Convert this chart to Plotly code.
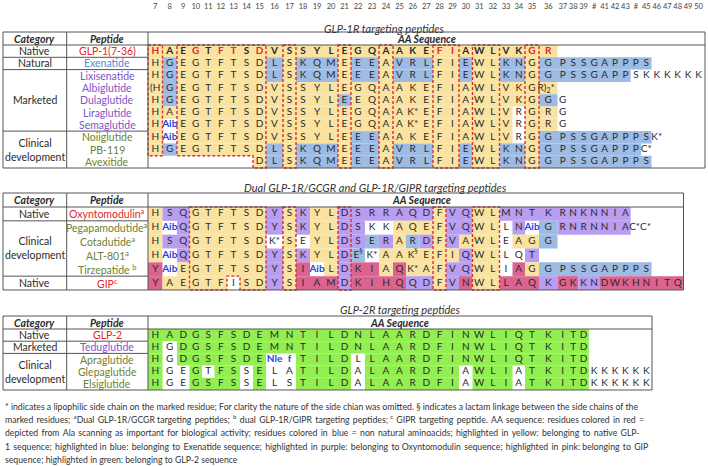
import plotly.graph_objects as go

# ------------------------------------------------------------------ data
POSITIONS = list(range(7, 51))
POS_LABELS = ["#" if p in (40, 44) else str(p) for p in POSITIONS]

# ---- table 1 : GLP-1R
T1_TITLE = "GLP-1R targeting peptides"
T1_PEPTIDES = ["GLP-1(7-36)", "Exenatide", "Lixisenatide", "Albiglutide", "Dulaglutide",
               "Liraglutide", "Semaglutide", "Noiiglutide", "PB-119", "Avexitide"]
T1_GROUP = ["native", "natural", "marketed", "marketed", "marketed", "marketed", "marketed",
            "clinical", "clinical", "clinical"]
T1_CATEGORY = [("Native", 1), ("Natural", 1), ("Marketed", 5), ("Clinical<br>development", 3)]
T1_START = [7, 7, 7, 7, 7, 7, 7, 7, 7, 15]
T1_SEQ = [
    "H A E G T F T S D V S S Y L E G Q A A K E F I A W L V K G R",
    "H G E G T F T S D L S K Q M E E E A V R L F I E W L K N G G P S S G A P P P S",
    "H G E G T F T S D L S K Q M E E E A V R L F I E W L K N G G P S S G A P P S K K K K K K",
    "(H G E G T F T S D V S S Y L E G Q A A K E F I A W L V K G R)<sub>2</sub>*",
    "H G E G T F T S D V S S Y L E E Q A A K E F I A W L V K G G G",
    "H A E G T F T S D V S S Y L E G Q A A K* E F I A W L V R G R G",
    "H Aib E G T F T S D V S S Y L E G Q A A K* E F I A W L V R G R G",
    "H Aib E G T F T S D V S S Y L E E E A A K E F I A W L V R G G P S S G A P P P S K*",
    "H G E G T F T S D L S K Q M E E E A V R L F I E W L K N G G P S S G A P P P C*",
    "D L S K Q M E E E A V R L F I E W L K N G G P S S G A P P P S",
]
T1_HL = [
    "YYYYYYYYYYYYYYYYYYYYYYYYYYYYYY",
    "YBYYYYYYYBYBBBYBBYBBBYYBYYBBYBBBBBBBBBB",
    "YBYYYYYYYBYBBBYBBYBBBYYBYYBBYBBBBBBBBWWWWWWW",
    "YBYYYYYYYYYYYYYYYYYYYYYYYYYYYY",
    "YBYYYYYYYYYYYYBYYYYYYYYYYYYYYBW",
    "YYYYYYYYYYYYYYYYYYYYYYYYYYYWYYW",
    "YWYYYYYYYYYYYYYYYYYYYYYYYYYWYYW",
    "YWYYYYYYYYYYYYYBBYYYYYYYYYYWYBBBBBBBBBBW",
    "YBYYYYYYYBYBBBYBBYBBBYYBYYBBYBBBBBBBBBW",
    "YBYBBBYBBYBBBYYBYYBBYBBBBBBBBBB",
]
T1_BOXES = [(7, 7), (9, 15), (17, 17), (21, 21), (24, 24), (28, 29), (31, 32), (35, 35)]
T1_EXCLUDE = []
T1_RED = [7, 10, 12, 13, 15, 28, 29, 35, 36]

# ---- table 2 : dual agonists
T2_TITLE = "Dual GLP-1R/GCGR and GLP-1R/GIPR targeting peptides"
T2_PEPTIDES = ["Oxyntomodulin<sup>a</sup>", "Pegapamodutide<sup>a</sup>", "Cotadutide<sup>a</sup>",
               "ALT-801<sup>a</sup>", "Tirzepatide <sup>b</sup>", "GIP<sup>c</sup>"]
T2_GROUP = ["native", "clinical", "clinical", "clinical", "clinical", "native"]
T2_CATEGORY = [("Native", 1), ("Clinical<br>development", 4), ("Native", 1)]
T2_START = [7, 7, 7, 7, 7, 7]
T2_SEQ = [
    "H S Q G T F T S D Y S K Y L D S R R A Q D F V Q W L M N T K R N K N N I A",
    "H Aib Q G T F T S D Y S K Y L D S K K A Q E F V Q W L L N Aib G R N R N N I A C*C*",
    "H S Q G T F T S D K* S E Y L D S E R A R D F V A W L E A G G",
    "H Aib Q G T F T S D Y S K Y L D E<sup>§</sup> K* A A K<sup>§</sup> E F I Q W L L Q T",
    "Y Aib E G T F T S D Y S I Aib L D K I A Q K* A F V Q W L I A G G P S S G A P P P S",
    "Y A E G T F I S D Y S I A M D K I H Q Q D F V N W L L A Q K G K K N D W K H N I T Q",
]
T2_HL = [
    "YPPYYYYYYPYPYYPPPPPPPYPPYYPPPPPPPPPPP",
    "YWPYYYYYYPYPYYPPWWYYYYPPYYWPWBPPPPPPPW",
    "YPPYYYYYYWYWYYPPBPYBPYPYYYWYYB",
    "YWPYYYYYYPYPYYPBWYYYYYYPYYWWP",
    "KWYYYYYYYPYKWYPKKYKYYYPPYYWKYBBBBBBBBBB",
    "KYYYYYWYYPYKKKPKKKKPPYPKYYKKKPKKPPKKKKKKKK",
]
T2_BOXES = [(10, 15), (17, 17), (21, 21), (28, 28), (31, 32)]
T2_EXCLUDE = [(5, 13)]

# ---- table 3 : GLP-2R
T3_TITLE = "GLP-2R targeting peptides"
T3_PEPTIDES = ["GLP-2", "Teduglutide", "Apraglutide", "Glepaglutide", "Elsiglutide"]
T3_GROUP = ["native", "marketed", "clinical", "clinical", "clinical"]
T3_CATEGORY = [("Native", 1), ("Marketed", 1), ("Clinical<br>development", 3)]
T3_START = [7, 7, 7, 7, 7]
T3_SEQ = [
    "H A D G S F S D E M N T I L D N L A A R D F I N W L I Q T K I T D",
    "H G D G S F S D E M N T I L D N L A A R D F I N W L I Q T K I T D",
    "H G D G S F S D E Nle f T I L D L L A A R D F I N W L I Q T K I T D",
    "H G E G T F S S E L A T I L D A L A A R D F I A W L I A T K I T D K K K K K K",
    "H G E G S F S S E L S T I L D A L A A R D F I A W L I A T K I T D K K K K K K",
]
T3_HL = [
    "GGGGGGGGGGGGGGGGGGGGGGGGGGGGGGGGG",
    "GWGGGGGGGGGGGGGGGGGGGGGGGGGGGGGGG",
    "GWGGGGGGGWWGGGGWGGGGGGGGGGGGGGGGG",
    "GWWGWGGWGWWGGGGWGGGGGGGWGGGWGGGGGWWWWWW",
    "GWWGGGGWGWWGGGGWGGGGGGGWGGGWGGGGGWWWWWW",
]
T3_BOXES = []
T3_EXCLUDE = []

FOOTNOTE = [
    "* indicates a lipophilic side chain on the marked residue; For clarity the nature of the side chian was omitted. § indicates a lactam linkage between the side chains of the",
    "marked residues; <sup>a</sup>Dual GLP-1R/GCGR targeting peptides; <sup>b</sup> dual GLP-1R/GIPR targeting peptides; <sup>c</sup> GIPR targeting peptide. AA sequence: residues colored in red =",
    "depicted from Ala scanning as important for biological activity; residues colored in blue = non natural aminoacids; highlighted in yellow: belonging to native GLP-",
    "1 sequence; highlighted in blue: belonging to Exenatide sequence; highlighted in purple: belonging to Oxyntomodulin sequence; highlighted in pink: belonging to GIP",
    "sequence; highlighted in green: belonging to GLP-2 sequence",
]

# ------------------------------------------------------------------ styles / layout
FONT = "Lato, 'Open Sans', sans-serif"
HL_COLORS = {"Y": "#FAE3A1", "B": "#9DBBE3", "P": "#B89DF0", "K": "#DA6390", "G": "#93EE52"}
NAME_COLORS = {"native": "#E3262B", "natural": "#4F8BCB", "marketed": "#8254C8", "clinical": "#6F8131"}
TXT = "#2b2b2b"
RED_TXT = "#E3262B"
BLUE_TXT = "#1F3FE0"
BLUE_TOKENS = {"Aib", "Nle", "f"}
OVERFLOW = {"R)<sub>2</sub>*", "C*C*"}
DASH_RED = "#D9302C"
GRID = "#555555"
FOOT_SIZE = 8.7
FOOT_EXTRA_THIN = [0, 18, 24, 17, 0]   # thin spaces added per line to mimic justified text

COL_EDGES = [148, 162.5, 177, 189.5, 202, 214.5, 227, 240, 253, 266, 283, 296, 310, 324, 338,
             351, 365, 379, 393, 406, 419.5, 433, 446, 459, 472.5, 486, 499.5, 512.5, 525, 539,
             557.5] + [557.5 + 10.45 * k for k in range(1, 15)]
X_LEFT, X_C1, X_C2 = 3, 66.7, 148

TABLES = [
    dict(title=T1_TITLE, title_xy=(384, 28), top=32, head_h=13, row_h=12.3, right=705, aa_x=426,
         peptides=T1_PEPTIDES, group=T1_GROUP, cats=T1_CATEGORY, start=T1_START, seq=T1_SEQ,
         hl=T1_HL, boxes=T1_BOXES, exclude=T1_EXCLUDE, bold_rows=[0], red=T1_RED),
    dict(title=T2_TITLE, title_xy=(375, 187), top=193, head_h=14, row_h=13.83, right=683.5, aa_x=421,
         peptides=T2_PEPTIDES, group=T2_GROUP, cats=T2_CATEGORY, start=T2_START, seq=T2_SEQ,
         hl=T2_HL, boxes=T2_BOXES, exclude=T2_EXCLUDE, bold_rows=[], red=[]),
    dict(title=T3_TITLE, title_xy=(400, 309), top=316, head_h=13, row_h=12.2, right=652, aa_x=399,
         peptides=T3_PEPTIDES, group=T3_GROUP, cats=T3_CATEGORY, start=T3_START, seq=T3_SEQ,
         hl=T3_HL, boxes=T3_BOXES, exclude=T3_EXCLUDE, bold_rows=[], red=[]),
]


def ex(p):
    return COL_EDGES[p - 7]


def cx(p):
    return (COL_EDGES[p - 7] + COL_EDGES[p - 6]) / 2


shapes, annotations = [], []
tx, ty, tt, tc, tp = [], [], [], [], []


def ann(x, y, text, size=10, color=TXT, xanchor="center"):
    annotations.append(dict(x=x, y=y, xref="x", yref="y", text=text, showarrow=False,
                            xanchor=xanchor, yanchor="middle",
                            font=dict(family=FONT, size=size, color=color)))


def line(x0, y0, x1, y1, w=1, color=GRID):
    shapes.append(dict(type="line", xref="x", yref="y", x0=x0, y0=y0, x1=x1, y1=y1,
                       line=dict(color=color, width=w), layer="above"))


for T in TABLES:
    top, hh, rh = T["top"], T["head_h"], T["row_h"]
    y0 = top + hh
    n = len(T["seq"])
    bottom = y0 + n * rh

    def ry(i, y0=y0, rh=rh):
        return y0 + i * rh

    rows_tok = [s.split() for s in T["seq"]]
    for i, (toks, hl, st) in enumerate(zip(rows_tok, T["hl"], T["start"])):
        assert len(toks) == len(hl), (T["peptides"][i], len(toks), len(hl))
        j = 0
        while j < len(hl):
            k = j
            while k + 1 < len(hl) and hl[k + 1] == hl[j]:
                k += 1
            if hl[j] != "W":
                shapes.append(dict(type="rect", xref="x", yref="y", x0=ex(st + j), x1=ex(st + k + 1),
                                   y0=ry(i), y1=ry(i + 1), fillcolor=HL_COLORS[hl[j]],
                                   line=dict(width=0), layer="below"))
            j = k + 1
        for j, tok in enumerate(toks):
            p = st + j
            col = TXT
            label = tok
            if tok in BLUE_TOKENS:
                col = BLUE_TXT
                label = "<b>" + tok + "</b>"
            elif i == 0 and p in T["red"]:
                col = RED_TXT
            if i in T["bold_rows"]:
                label = "<b>" + tok + "</b>"
            if tok in OVERFLOW:
                tx.append(ex(p) - 1.5)
                tp.append("middle right")
            else:
                tx.append(cx(p))
                tp.append("middle center")
            ty.append(ry(i) + rh / 2)
            tt.append(label)
            tc.append(col)

    # dashed boxes (conserved / important residues)
    for (p0, p1) in T["boxes"]:
        bots = {}
        for p in range(p0, p1 + 1):
            b = y0
            for i, (toks, st) in enumerate(zip(rows_tok, T["start"])):
                if st <= p < st + len(toks) and (i, p) not in T["exclude"]:
                    b = ry(i + 1)
                else:
                    break
            bots[p] = b
        L, R = ex(p0), ex(p1 + 1)
        pts = [(L, y0), (R, y0), (R, bots[p1])]
        for p in range(p1, p0 - 1, -1):
            pts.append((ex(p), bots[p]))
            if p > p0 and bots[p - 1] != bots[p]:
                pts.append((ex(p), bots[p - 1]))
        path = "M " + " L ".join(f"{x:.2f},{y:.2f}" for x, y in pts) + " Z"
        shapes.append(dict(type="path", xref="x", yref="y", path=path,
                           line=dict(color=DASH_RED, width=1.4, dash="3px,2px"), layer="above"))

    # grid
    R = T["right"]
    shapes.append(dict(type="rect", xref="x", yref="y", x0=X_LEFT, x1=R, y0=top, y1=bottom,
                       line=dict(color=GRID, width=1), layer="above"))
    line(X_C1, top, X_C1, bottom)
    line(X_C2, top, X_C2, bottom)
    line(X_LEFT, y0, R, y0)
    r = 0
    for (cat, span) in T["cats"]:
        yc = (ry(r) + ry(r + span)) / 2
        ann((X_LEFT + X_C1) / 2, yc, cat, size=10.5)
        r += span
        if r < n:
            line(X_LEFT, ry(r), X_C2, ry(r))

    # header + names + title
    ann((X_LEFT + X_C1) / 2, top + hh / 2, "<b><i>Category</i></b>", size=10.5)
    ann((X_C1 + X_C2) / 2, top + hh / 2, "<b><i>Peptide</i></b>", size=10.5)
    ann(T["aa_x"], top + hh / 2, "<b><i>AA Sequence</i></b>", size=10.5)
    for i, (name, g) in enumerate(zip(T["peptides"], T["group"])):
        ann((X_C1 + X_C2) / 2, ry(i) + rh / 2, name, size=10.5, color=NAME_COLORS[g])
    ann(T["title_xy"][0], T["title_xy"][1], "<i>" + T["title"] + "</i>", size=11, color="#333333")


def justify(txt, n_extra):
    words = txt.split(" ")
    gaps = len(words) - 1
    if n_extra <= 0 or gaps <= 0:
        return txt
    out = words[0]
    given = 0
    for g in range(gaps):
        target = round((g + 1) * n_extra / gaps)
        add = target - given
        given = target
        out += " " + "\u2009" * add + words[g + 1]
    return out


# footnote
for k, txt in enumerate(FOOTNOTE):
    ann(3, 406 + k * 13.4, justify(txt, FOOT_EXTRA_THIN[k]), size=FOOT_SIZE, color="#333333",
        xanchor="left")

fig = go.Figure()
fig.add_trace(go.Scatter(x=tx, y=ty, text=tt, mode="text", textposition=tp,
                         textfont=dict(family=FONT, size=10, color=tc), hoverinfo="skip",
                         cliponaxis=False))
fig.add_trace(go.Scatter(x=[cx(p) for p in POSITIONS], y=[7] * len(POSITIONS), text=POS_LABELS,
                         mode="text", textfont=dict(family=FONT, size=7.5, color="#444444"),
                         hoverinfo="skip", cliponaxis=False))

fig.update_layout(
    width=708, height=466, margin=dict(l=0, r=0, t=0, b=0),
    paper_bgcolor="white", plot_bgcolor="white", showlegend=False,
    xaxis=dict(range=[0, 708], visible=False, fixedrange=True),
    yaxis=dict(range=[466, 0], visible=False, fixedrange=True),
    shapes=shapes, annotations=annotations,
)
fig.write_html("out.html", config={"displayModeBar": False},
               post_script="document.body.style.margin='0px';document.body.style.overflow='hidden';")
